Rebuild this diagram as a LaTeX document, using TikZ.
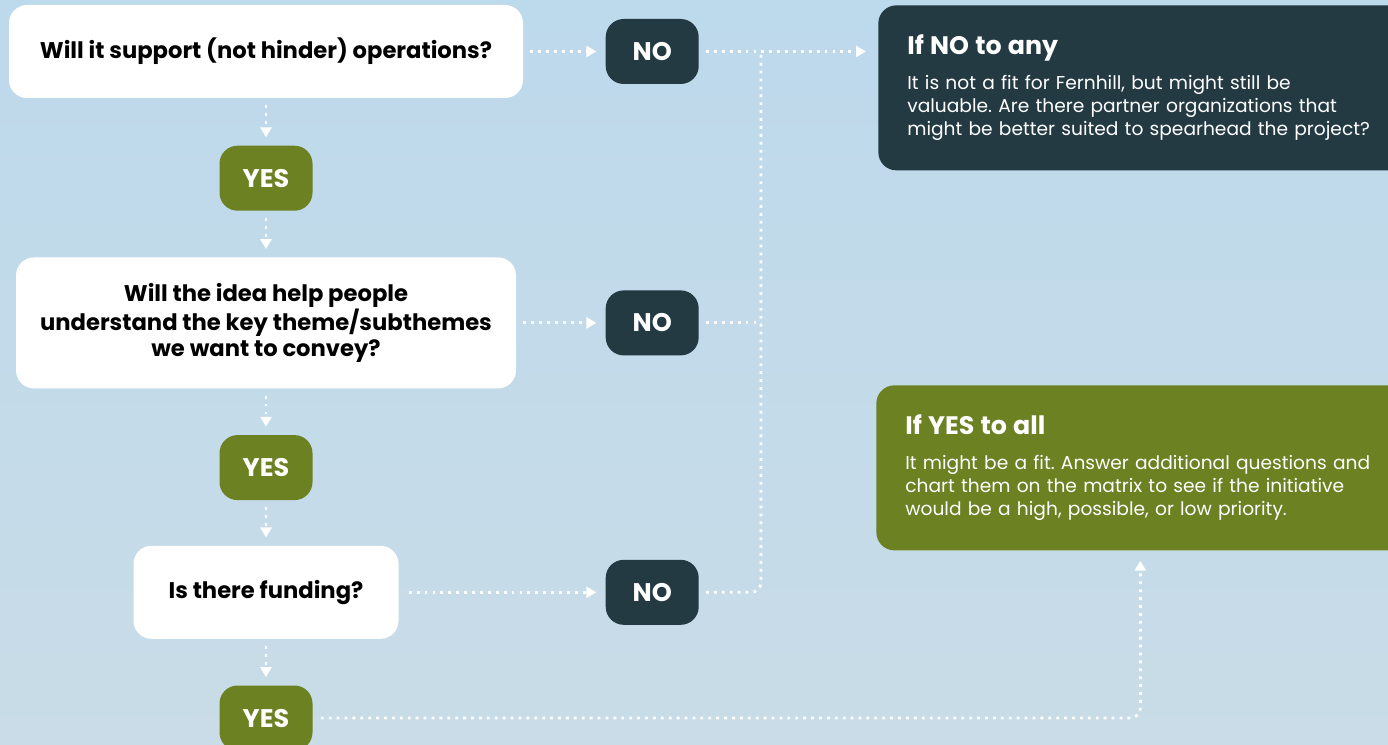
\documentclass[tikz,border=0pt]{standalone}
\usepackage{fontspec}
\setmainfont{Poppins}
\frenchspacing
\usetikzlibrary{positioning,arrows.meta}
\definecolor{skytop}{HTML}{BDD9EC}
\definecolor{skybot}{HTML}{C9DCE7}
\definecolor{slate}{HTML}{233A43}
\definecolor{olive}{HTML}{6B8122}
\tikzset{
  question/.style={fill=white, rounded corners=0.36cm, align=center, text=black, font=\bfseries\fontsize{12.9}{14.8}\selectfont},
  answer/.style={rounded corners=0.36cm, minimum width=1.86cm, minimum height=1.3cm, text=white, font=\bfseries\fontsize{14.5}{16}\selectfont},
  yes answer/.style={answer, fill=olive},
  no answer/.style={answer, fill=slate},
  outcome/.style={rounded corners=0.36cm, text=white, align=left, text width=9.7cm, inner xsep=0.58cm, minimum height=3.3cm, font=\fontsize{10.6}{13}\selectfont},
  link/.style={white, line width=1.6pt, dash pattern=on 1.6pt off 2.9pt},
  flow/.style={link, -{Triangle[length=0.2cm,width=0.22cm]}},
}
\begin{document}
\begin{tikzpicture}
\useasboundingbox (0,0) rectangle (27.76,-14.9);
\clip (0,0) rectangle (27.76,-14.9);
\shade[top color=skytop, bottom color=skybot] (0,0) rectangle (27.76,-14.9);
% questions and their yes answers
\node [question, minimum width=10.28cm, minimum height=1.86cm] (q1) at (5.32,-1.03) {Will it support (not hinder) operations?};
\node [yes answer, below=0.94cm of q1] (yes1) {YES};
\node [question, minimum width=10cm, minimum height=2.62cm, below=0.92cm of yes1] (q2) {Will the idea help people\\understand the key theme/subthemes\\we want to convey?};
\node [yes answer, below=0.92cm of q2] (yes2) {YES};
\node [question, minimum width=5.3cm, minimum height=1.86cm, below=0.9cm of yes2] (q3) {Is there funding?};
\node [yes answer, below=0.92cm of q3] (yes3) {YES};
% no answers
\node [no answer, right=1.64cm of q1] (no1) {NO};
\node [no answer] (no2) at (no1 |- q2) {NO};
\node [no answer] (no3) at (no1 |- q3) {NO};
% outcomes
\node [outcome, fill=slate, anchor=north west] (ifno) at (17.56,-0.1) {\textbf{\fontsize{14.4}{18}\selectfont If NO to any}\\[7pt]
It is not a fit for Fernhill, but might still be\\
valuable. Are there partner organizations that\\
might be better suited to spearhead the project?};
\node [outcome, fill=olive, anchor=north west] (ifyes) at (17.52,-7.7) {\textbf{\fontsize{14.4}{18}\selectfont If YES to all}\\[7pt]
It might be a fit. Answer additional questions and\\
chart them on the matrix to see if the initiative\\
would be a high, possible, or low priority.};
\coordinate (jn) at (15.22,-1.04);
%drawings of connectors
\draw[flow, shorten <=0.14cm, shorten >=0.18cm] (q1) -- (no1);
\draw[flow, shorten <=0.14cm, shorten >=0.18cm] (q2) -- (no2);
\draw[flow, shorten <=0.2cm, shorten >=0.18cm] (q3) -- (no3);
\draw[flow, shorten <=0.14cm, shorten >=0.24cm] (no1.east) -- (no1.east -| ifno.west);
\draw[link] ([xshift=0.14cm]no2.east) -- (no2 -| jn);
\draw[link, rounded corners=0.2cm] ([xshift=0.14cm]no3.east) -| (jn);
\draw[flow, shorten <=0.14cm, shorten >=0.16cm] (q1) -- (yes1);
\draw[flow, shorten <=0.14cm, shorten >=0.16cm] (yes1) -- (q2);
\draw[flow, shorten <=0.14cm, shorten >=0.16cm] (q2) -- (yes2);
\draw[flow, shorten <=0.14cm, shorten >=0.16cm] (yes2) -- (q3);
\draw[flow, shorten <=0.14cm, shorten >=0.16cm] (q3) -- (yes3);
\draw[flow, rounded corners=0.2cm, shorten <=0.16cm, shorten >=0.2cm] (yes3) -| ([xshift=-0.15cm]ifyes.south);
\end{tikzpicture}
\end{document}
